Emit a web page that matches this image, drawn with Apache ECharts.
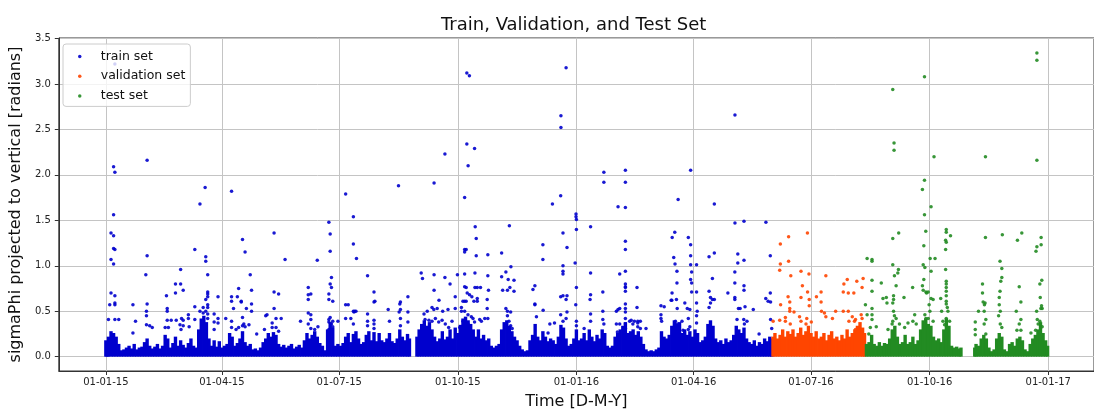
<!DOCTYPE html>
<html>
<head>
<meta charset="utf-8">
<script src="https://cdn.jsdelivr.net/npm/echarts@6/dist/echarts.min.js"></script>
<style>
  html, body { margin: 0; padding: 0; background: #ffffff; }
  #chart { width: 1094px; height: 415px; }
</style>
</head>
<body>
<div id="chart"></div>
<script>
// x values are days counted from 2015-01-01
const xTickDays = [0, 90, 181, 273, 365, 456, 547, 639, 731];
const xTickLabels = ['01-01-15', '01-04-15', '01-07-15', '01-10-15', '01-01-16', '01-04-16', '01-07-16', '01-10-16', '01-01-17'];
const yTicks = [0, 0.5, 1, 1.5, 2, 2.5, 3, 3.5];

// dense low-level body of each set, one column per two days: [day, upper edge]
const trainBand = [
  [0,0.18],[1,0.12],[2,0.22],[4,0.28],[6,0.26],[8,0.22],[10,0.14],[12,0.07],[14,0.08],[16,0.10],[18,0.12],[20,0.09],
  [22,0.14],[24,0.08],[26,0.10],[28,0.11],[30,0.16],[32,0.20],[34,0.12],[36,0.09],[38,0.11],[40,0.14],[42,0.09],[44,0.12],
  [46,0.24],[48,0.20],[50,0.10],[52,0.15],[54,0.22],[56,0.12],[58,0.18],[60,0.13],[62,0.10],[64,0.15],[66,0.20],[68,0.12],
  [70,0.10],[72,0.30],[74,0.42],[76,0.45],[78,0.38],[80,0.20],[82,0.12],[84,0.18],[86,0.11],[88,0.17],[90,0.10],[92,0.12],
  [94,0.14],[96,0.26],[98,0.22],[100,0.12],[102,0.15],[104,0.20],[106,0.28],[108,0.16],[110,0.12],[112,0.14],[114,0.08],
  [116,0.09],[118,0.07],[120,0.10],[122,0.16],[124,0.20],[126,0.26],[128,0.22],[130,0.27],[132,0.24],[134,0.14],[136,0.11],
  [138,0.13],[140,0.10],[142,0.12],[144,0.14],[146,0.09],[148,0.11],[150,0.13],[152,0.10],[154,0.18],[156,0.26],[158,0.20],
  [160,0.24],[162,0.28],[164,0.22],[166,0.15],[168,0.12],[170,0.07],[172,0.30],[174,0.38],[176,0.32],[178,0.12],[180,0.14],
  [182,0.12],[184,0.15],[186,0.22],[188,0.26],[190,0.16],[192,0.25],[194,0.28],[196,0.20],[198,0.14],[200,0.16],[202,0.24],
  [204,0.28],[206,0.18],[208,0.27],[210,0.17],[212,0.26],[214,0.18],[216,0.16],[218,0.20],[220,0.26],[222,0.17],[224,0.15],
  [226,0.20],[228,0.30],[230,0.22],[232,0.18],[234,0.25],[235.5,0.20],
  [241.3,0.22],[243,0.30],[245,0.36],[247,0.40],[249,0.34],[251,0.38],[253,0.30],[255,0.22],[257,0.17],[259,0.20],[261,0.28],
  [263,0.19],[265,0.22],[267,0.30],[269,0.20],[271,0.32],[273,0.26],[275,0.35],[277,0.42],[279,0.44],[281,0.40],[283,0.36],
  [285,0.30],[287,0.22],[289,0.30],[291,0.20],[293,0.24],[295,0.18],[297,0.20],[299,0.12],[301,0.10],[303,0.12],[305,0.14],
  [307,0.30],[309,0.38],[311,0.40],[313,0.34],[315,0.28],[317,0.22],[319,0.18],[321,0.12],[323,0.08],[325,0.06],[327,0.07],
  [329,0.18],[331,0.24],[333,0.36],[335,0.22],[337,0.18],[339,0.28],[341,0.22],[343,0.17],[345,0.20],[347,0.18],[349,0.14],
  [351,0.22],[353,0.35],[355,0.32],[357,0.20],[359,0.12],[361,0.14],[363,0.20],[365,0.30],[367,0.18],[369,0.20],[371,0.26],
  [373,0.18],[375,0.30],[377,0.22],[379,0.17],[381,0.24],[383,0.20],[385,0.30],[387,0.26],[389,0.12],[391,0.10],[393,0.12],
  [395,0.22],[397,0.26],[399,0.30],[401,0.34],[403,0.38],[405,0.26],[407,0.28],[409,0.30],[411,0.24],[413,0.28],[415,0.22],
  [417,0.14],[419,0.08],[421,0.06],[423,0.07],[425,0.06],[427,0.08],[429,0.10],[431,0.28],[433,0.22],[435,0.20],[437,0.24],
  [439,0.34],[441,0.40],[443,0.36],[445,0.38],[447,0.26],[449,0.30],[451,0.24],[453,0.28],[455,0.22],[457,0.30],[459,0.26],
  [461,0.16],[463,0.18],[465,0.22],[467,0.36],[469,0.40],[471,0.34],[473,0.20],[475,0.16],[477,0.18],[479,0.14],[481,0.20],
  [483,0.16],[485,0.18],[487,0.24],[489,0.34],[491,0.30],[493,0.26],[495,0.32],[497,0.20],[499,0.16],[501,0.14],[503,0.18],
  [505,0.12],[507,0.16],[509,0.14],[511,0.20],[513,0.17],[515,0.22],[516.5,0.20]
];
const validationBand = [
  [517.5,0.22],[519,0.26],[521,0.20],[523,0.24],[525,0.30],[527,0.22],[529,0.28],[531,0.25],[533,0.30],[535,0.22],[537,0.26],
  [539,0.32],[541,0.24],[543,0.28],[545,0.34],[547,0.26],[549,0.22],[551,0.28],[553,0.20],[555,0.22],[557,0.26],[559,0.18],
  [561,0.24],[563,0.28],[565,0.20],[567,0.22],[569,0.18],[571,0.24],[573,0.20],[575,0.30],[577,0.22],[579,0.26],[581,0.30],
  [583,0.34],[585,0.38],[587,0.32],[588.5,0.26]
];
const testBand = [
  [590,0.14],[592,0.16],[594,0.24],[596,0.14],[598,0.12],[600,0.16],[602,0.12],[604,0.15],[606,0.14],[608,0.20],
  [610,0.30],[612,0.34],[614,0.22],[616,0.14],[618,0.16],[620,0.24],[622,0.14],[624,0.16],[626,0.22],[628,0.14],[630,0.18],
  [632,0.30],[634,0.40],[636,0.42],[638,0.36],[640,0.34],[642,0.22],[644,0.18],[646,0.20],[648,0.16],[650,0.30],[652,0.42],
  [654,0.34],[656,0.12],[658,0.10],[660,0.11],[662,0.09],[663.3,0.10],
  [674,0.10],[675,0.14],[677,0.12],[679,0.20],[681,0.24],[683,0.20],[685,0.10],[687,0.06],[689,0.08],[691,0.20],[693,0.26],
  [695,0.22],[697,0.08],[699,0.06],[701,0.14],[703,0.16],[705,0.12],[707,0.20],[709,0.22],[711,0.18],[713,0.08],[715,0.06],
  [717,0.14],[719,0.20],[721,0.24],[723,0.30],[725,0.38],[727,0.26],[729,0.18],[730.5,0.12]
];

// individual readings above the dense body: [day, sigmaPhi]
const trainPoints = [
  [7,3.22],[280,3.12],[282,3.09],[357,3.18],[353,2.65],[353,2.52],[263,2.23],[280,2.34],[286,2.29],[281,2.10],[32,2.16],
  [6,2.09],[7,2.03],[488,2.66],
  [6,1.56],[4,1.36],[6,1.33],[6,1.19],[7,1.18],[4,1.07],[6,1.02],[77,1.86],[73,1.68],[97.5,1.82],[106,1.29],[108,1.15],
  [130.5,1.36],[139,1.07],[164,1.06],[173,1.48],[174,1.35],[174,1.16],[186,1.79],[192,1.54],[192,1.24],[69,1.18],[77.5,1.10],
  [77.5,1.05],[32,1.11],[31,0.90],[58,0.96],[54,0.80],[58,0.80],[54,0.70],[60,0.73],[47,0.67],[79,0.90],[112,0.90],[103,0.75],
  [113,0.73],[130.5,0.71],[134,0.69],[157,0.76],[159,0.69],[157,0.68],[157,0.63],[173,0.69],[175,0.76],[174,0.80],[175,0.87],
  [173,0.63],[176,0.61],[186,0.57],[188,0.57],[4,0.70],[7,0.67],[3,0.57],[7,0.57],[7,0.59],[2,0.41],[7,0.41],[10,0.41],
  [21,0.57],[23,0.39],[21,0.26],[32,0.58],[31.5,0.50],[31.5,0.45],[31.5,0.35],[34,0.34],[36,0.32],[47.6,0.53],[47.6,0.50],
  [47.6,0.40],[50.7,0.40],[54.6,0.40],[46,0.32],[48.5,0.32],[58.7,0.42],[60,0.40],[57.5,0.35],[60,0.34],[58.3,0.30],[64,0.46],
  [64,0.42],[69,0.55],[64.6,0.33],[69,0.41],[73,0.50],[75.5,0.54],[75.5,0.48],[77.5,0.50],[79,0.57],[79,0.54],[79,0.47],
  [79,0.42],[77.5,0.63],[79,0.71],[79,0.69],[79,0.66],[84,0.47],[84,0.38],[84,0.30],[87,0.66],[87,0.42],[87,0.37],[93,0.42],
  [97.5,0.66],[97.5,0.61],[99,0.53],[97.5,0.39],[97.5,0.32],[102,0.66],[105,0.61],[105,0.60],[109,0.53],[106,0.43],[113,0.58],
  [113,0.50],[103,0.32],[106,0.34],[108,0.33],[111,0.35],[101,0.30],[107,0.36],[117,0.25],[124,0.45],[125,0.46],[123,0.30],
  [129,0.37],[132,0.42],[136,0.42],[132,0.32],[129,0.32],[134,0.28],[130.5,0.53],[151,0.39],[157,0.48],[159,0.46],[159,0.41],
  [157,0.36],[159,0.31],[162,0.30],[164.5,0.33],[173,0.41],[173,0.38],[175,0.36],[176,0.33],[173,0.30],[174,0.43],[176,0.39],
  [180,0.39],[186,0.42],[190,0.42],[192,0.50],[192,0.36],
  [194.4,1.08],[227,1.88],[254.6,1.91],[278.3,1.75],[286.5,1.43],[287.3,1.30],[278.3,1.18],[279.5,1.18],[278.3,1.15],
  [287.3,1.11],[296.3,1.12],[307,1.14],[313,1.44],[314.2,0.99],[339,1.23],[339,1.07],[346.4,1.68],[352.8,1.77],[354.6,1.36],
  [357.7,1.20],[354.6,1.00],[354.6,0.94],[354.6,0.91],[364,1.03],[364.7,1.57],[364.7,1.54],[365,1.51],[365,1.40],[376,1.43],
  [376,0.92],[386.3,2.03],[386.3,1.92],[385.5,0.71],[203,0.89],[208,0.71],[208.7,0.61],[208,0.60],[193,0.50],[194,0.50],
  [192.5,0.49],[203,0.47],[203,0.39],[203,0.34],[208,0.40],[208,0.36],[208,0.31],[219,0.52],[220,0.39],[228.5,0.60],
  [228,0.58],[228.5,0.52],[228.5,0.42],[228.5,0.34],[227.5,0.49],[234.3,0.66],[234.3,0.49],[234.3,0.38],[244.6,0.92],
  [245.6,0.86],[254.6,0.90],[254.6,0.73],[263,0.87],[267,0.80],[258.4,0.62],[271,0.66],[272.7,0.90],[246.8,0.47],[249.3,0.50],
  [253,0.54],[254.4,0.52],[257,0.53],[261.3,0.50],[265.4,0.52],[247.6,0.41],[250.6,0.40],[253,0.39],[255.6,0.42],[258.2,0.38],
  [260.8,0.40],[263.3,0.36],[268.5,0.39],[265.9,0.32],[271,0.53],[275.8,0.54],[278.3,0.50],[277,0.61],[278.3,0.61],
  [279.5,0.61],[278.3,0.77],[279.5,0.76],[280.3,0.70],[282.1,0.68],[283.9,0.66],[285.5,0.61],[278.3,0.91],[286.3,0.92],
  [286.3,0.76],[288.1,0.76],[290.6,0.76],[288.1,0.64],[288.1,0.61],[296.3,0.89],[296.8,0.73],[295.8,0.63],[295.8,0.53],
  [275.8,0.50],[280.9,0.46],[283.5,0.44],[284.8,0.42],[277,0.39],[280.9,0.36],[274.5,0.32],[286,0.38],[290,0.41],[291.3,0.39],
  [293.9,0.42],[296.3,0.42],[307,0.88],[310.3,0.93],[312.1,0.85],[313.4,0.76],[311.5,0.73],[316.6,0.72],[316.6,0.84],
  [307.8,0.73],[310.3,0.53],[311.5,0.50],[314,0.49],[311.5,0.45],[312.7,0.39],[314,0.34],[315.2,0.31],[331.3,0.74],
  [332.8,0.78],[332.8,0.58],[332.8,0.57],[339.2,0.51],[334,0.44],[344.4,0.36],[343,0.26],[348,0.37],[352.8,0.66],[354.6,0.67],
  [357,0.63],[357.7,0.67],[357,0.42],[352.8,0.46],[354.6,0.39],[357.7,0.49],[364.5,0.57],[365,0.76],[365,0.39],[365,0.34],
  [371,0.31],[375.6,0.63],[376,0.68],[376,0.47],[376,0.39],[385.5,0.50],[385.5,0.41],[386.3,0.36],
  [403,2.05],[403,1.92],[397.3,1.65],[403,1.64],[403,1.27],[403,1.18],[403,0.94],[398.6,0.91],[403,0.80],[403,0.77],
  [403,0.76],[403,0.72],[412,0.76],[412,0.54],[403,0.58],[403,0.53],[403,0.49],[397.3,0.52],[398.6,0.53],[396,0.50],
  [403,0.42],[403,0.36],[403,0.31],[406.3,0.39],[407.5,0.40],[410,0.39],[412.6,0.39],[414.6,0.39],[412.6,0.37],[412.6,0.33],
  [414.6,0.31],[419,0.31],[396,0.36],[398.6,0.36],[396.8,0.27],[408.8,0.36],[453.6,2.05],[443.9,1.73],[472,1.68],[488,1.47],
  [495,1.49],[512,1.48],[439.3,1.31],[441.3,1.37],[451.8,1.31],[453.6,1.23],[440.5,1.09],[441.5,1.02],[443,0.94],[443,0.81],
  [453.6,1.11],[453.6,1.01],[454.4,0.93],[453.6,0.85],[454.4,0.81],[454.4,0.71],[458.2,1.01],[458.2,0.71],[467.9,1.10],
  [472,1.14],[470.5,0.86],[467.9,0.72],[469,0.65],[470.5,0.63],[472,0.63],[467.9,0.54],[469,0.59],[439.2,0.70],[438.5,0.62],
  [439,0.62],[442.6,0.63],[443.2,0.53],[449.1,0.59],[451,0.53],[453,0.52],[451.8,0.42],[430.6,0.56],[433.1,0.55],[430.6,0.46],
  [430.6,0.42],[431.1,0.39],[441.8,0.39],[443.1,0.36],[446.9,0.39],[447.7,0.29],[453,0.33],[451.8,0.30],[443.7,0.30],
  [458.2,0.59],[458.7,0.50],[458.2,0.45],[458.2,0.37],[482.5,0.70],[487.9,0.93],[487.9,0.81],[487.9,0.63],[487.9,0.65],
  [490.2,1.13],[490.2,1.03],[495,1.06],[495,0.78],[495,0.73],[490.7,0.53],[492,0.53],[495.8,0.55],[502.2,0.52],[489.6,0.41],
  [494.8,0.41],[495.3,0.36],[497.3,0.39],[511.9,0.64],[513.7,0.61],[515.6,0.60],[515.4,0.70],[515.4,1.11],[515.6,0.41],
  [516.5,0.31],[506.7,0.25]
];
const validationPoints = [
  [523.2,1.24],[529.6,1.32],[544.2,1.36],[523.2,1.02],[529.6,1.05],[522.7,0.95],[531.3,0.89],[539.2,0.94],[545.4,0.91],
  [558.5,0.89],[540.3,0.78],[544.3,0.71],[539.2,0.65],[545.6,0.63],[554.8,0.71],[551.2,0.66],[554.8,0.60],[545.6,0.56],
  [530.5,0.60],[529.2,0.66],[530.5,0.53],[523.4,0.57],[533.8,0.49],[530.5,0.50],[517.6,0.39],[522.7,0.40],[527.1,0.43],
  [527.1,0.39],[530.9,0.36],[538.1,0.44],[539.2,0.39],[543.7,0.42],[543.1,0.36],[547.2,0.38],[555.1,0.50],[557.4,0.48],
  [558.5,0.44],[563.6,0.42],[566.1,0.50],[572,0.50],[575.9,0.50],[576.4,0.39],[579,0.44],[581.5,0.41],[572.5,0.80],
  [575.1,0.85],[572,0.71],[575.9,0.70],[580.2,0.70],[582.5,0.83],[587.4,0.86],[586.6,0.76],[580.7,0.39],[585.9,0.46],
  [586.6,0.42],[581.5,0.30]
];
const testPoints = [
  [722.2,3.34],[722.2,3.26],[635,3.08],[610.4,2.94],[611.4,2.35],[611.4,2.27],[642.4,2.20],[682.3,2.20],[722.2,2.16],
  [635,1.94],[633.4,1.84],[640.1,1.65],[635,1.56],[610.4,1.30],[615,1.36],[636,1.38],[634.5,1.22],[639.4,1.08],[643.2,1.08],
  [590.5,1.08],[594.3,1.07],[594.3,1.05],[651.9,1.40],[651.9,1.37],[655.2,1.33],[651.4,1.28],[651.9,1.26],[651.4,1.18],
  [651.4,0.96],[634,1.01],[635.3,0.98],[634.5,0.85],[633.4,0.78],[634,0.73],[636.1,0.71],[636.6,0.70],[637.9,0.71],
  [640.1,0.94],[640.1,0.64],[641.7,0.63],[638.6,0.57],[639.2,0.50],[637.9,0.42],[641.7,0.39],[647.6,0.64],[648.3,0.50],
  [649.3,0.39],[635.3,0.46],[636.1,0.42],[651.9,0.83],[651.9,0.80],[651.9,0.76],[651.9,0.72],[651.9,0.67],[651.9,0.61],
  [651.9,0.58],[652.7,0.54],[653.2,0.50],[651.9,0.42],[650.6,0.35],[654.5,0.39],[610.4,1.01],[611.7,0.89],[614.3,0.92],
  [613,0.78],[614.8,0.96],[611,0.67],[611,0.63],[610.4,0.59],[611,0.50],[611.7,0.45],[610.4,0.39],[613,0.42],[609.9,0.36],
  [615.6,0.36],[594.3,0.84],[594.3,0.72],[594.3,0.53],[594.3,0.46],[594.3,0.41],[590.5,0.46],[593,0.32],[591.8,0.25],
  [597.6,0.33],[601.5,0.81],[602.8,0.64],[605.4,0.65],[605.9,0.59],[606.7,0.30],[619.1,0.65],[625.8,0.76],[627.4,0.46],
  [619.6,0.32],[622.2,0.37],[626,0.39],[628.6,0.36],[589.2,0.57],
  [682.3,1.31],[695.4,1.34],[707.1,1.28],[710.5,1.36],[725.5,1.31],[725.5,1.23],[722.2,1.21],[721.5,1.16],[693.6,1.05],
  [695,0.97],[695,0.87],[694.2,0.83],[693.6,0.72],[680,0.80],[680,0.70],[680.5,0.60],[682,0.59],[681.5,0.57],[676.9,0.50],
  [681.3,0.50],[682.6,0.41],[681.3,0.36],[682.6,0.25],[674.4,0.38],[674.4,0.30],[674.4,0.24],[693,0.65],[693,0.57],
  [693.8,0.50],[692.5,0.45],[693.8,0.36],[695,0.32],[708.5,0.77],[709.8,0.60],[706.2,0.50],[709.8,0.41],[708.5,0.36],
  [706.7,0.29],[709.8,0.29],[726,0.84],[724.5,0.80],[724.8,0.65],[725.8,0.56],[726.3,0.53],[725.3,0.53],[722,0.50],
  [722.5,0.41],[723.2,0.36],[717.6,0.26],[721.2,0.29],[724.5,0.39],[726.3,0.33]
];

const sets = [
  { name: 'train set', color: '#0000cd', band: trainBand, points: trainPoints },
  { name: 'validation set', color: '#ff4500', band: validationBand, points: validationPoints },
  { name: 'test set', color: '#228b22', band: testBand, points: testPoints }
];

const series = [];
// narrow, slightly overlapping columns for the dense body, all sharing the same slots
sets.forEach(s => {
  series.push({
    name: s.name + ' body',
    type: 'bar',
    data: s.band,
    barWidth: 3.4,
    barGap: '-100%',
    silent: true,
    z: 1,
    itemStyle: { color: s.color }
  });
});
sets.forEach(s => {
  series.push({
    name: s.name,
    type: 'scatter',
    data: s.points,
    symbol: 'circle',
    symbolSize: 3.5,
    z: 3,
    itemStyle: { color: s.color, opacity: 0.9 }
  });
});

const labelFont = 'DejaVu Sans';
const chart = echarts.init(document.getElementById('chart'), null, { renderer: 'canvas' });
chart.setOption({
  animation: false,
  backgroundColor: '#ffffff',
  title: {
    text: 'Train, Validation, and Test Set',
    left: 441,
    top: 16,
    padding: 0,
    textStyle: { fontFamily: labelFont, fontSize: 18, fontWeight: 'normal', color: '#111' }
  },
  legend: {
    data: sets.map(s => ({ name: s.name, icon: 'circle' })),
    orient: 'vertical',
    left: 63,
    top: 44,
    itemWidth: 32,
    itemHeight: 3.5,
    itemGap: 4.7,
    padding: [5, 5, 3, 15],
    backgroundColor: 'rgba(255,255,255,0.8)',
    borderColor: '#cccccc',
    borderWidth: 1,
    borderRadius: 3,
    textStyle: { fontFamily: labelFont, fontSize: 12.5, color: '#111', lineHeight: 15 }
  },
  grid: { left: 56, top: 38, width: 1047, height: 340, show: true, borderColor: '#333333', borderWidth: 1 },
  xAxis: {
    type: 'value',
    min: -36.5,
    max: 766.5,
    name: 'Time [D-M-Y]',
    nameLocation: 'middle',
    nameGap: 23,
    nameTextStyle: { fontFamily: labelFont, fontSize: 16, color: '#111', verticalAlign: 'top' },
    axisLine: { show: true, onZero: false, lineStyle: { color: '#333333', width: 1 } },
    axisTick: { show: true, customValues: xTickDays, length: 4, lineStyle: { color: '#333333' } },
    axisLabel: {
      customValues: xTickDays,
      margin: 6,
      fontFamily: labelFont, fontSize: 10, color: '#222',
      formatter: v => { const i = xTickDays.indexOf(v); return i >= 0 ? xTickLabels[i] : ''; }
    },
    splitLine: { show: true, lineStyle: { color: '#c4c4c4', width: 1 } }
  },
  yAxis: {
    type: 'value',
    min: -0.158,
    max: 3.506,
    name: 'sigmaPhi projected to vertical [radians]',
    nameLocation: 'middle',
    nameRotate: 90,
    nameGap: 32,
    nameTextStyle: { fontFamily: labelFont, fontSize: 16, color: '#111' },
    axisLine: { show: true, onZero: false, lineStyle: { color: '#333333', width: 1 } },
    axisTick: { show: true, customValues: yTicks, length: 4, lineStyle: { color: '#333333' } },
    axisLabel: {
      customValues: yTicks,
      margin: 8,
      fontFamily: labelFont, fontSize: 10, color: '#222',
      formatter: v => v.toFixed(1)
    },
    splitLine: { show: true, lineStyle: { color: '#c4c4c4', width: 1 } }
  },
  series: series
});
</script>
</body>
</html>
